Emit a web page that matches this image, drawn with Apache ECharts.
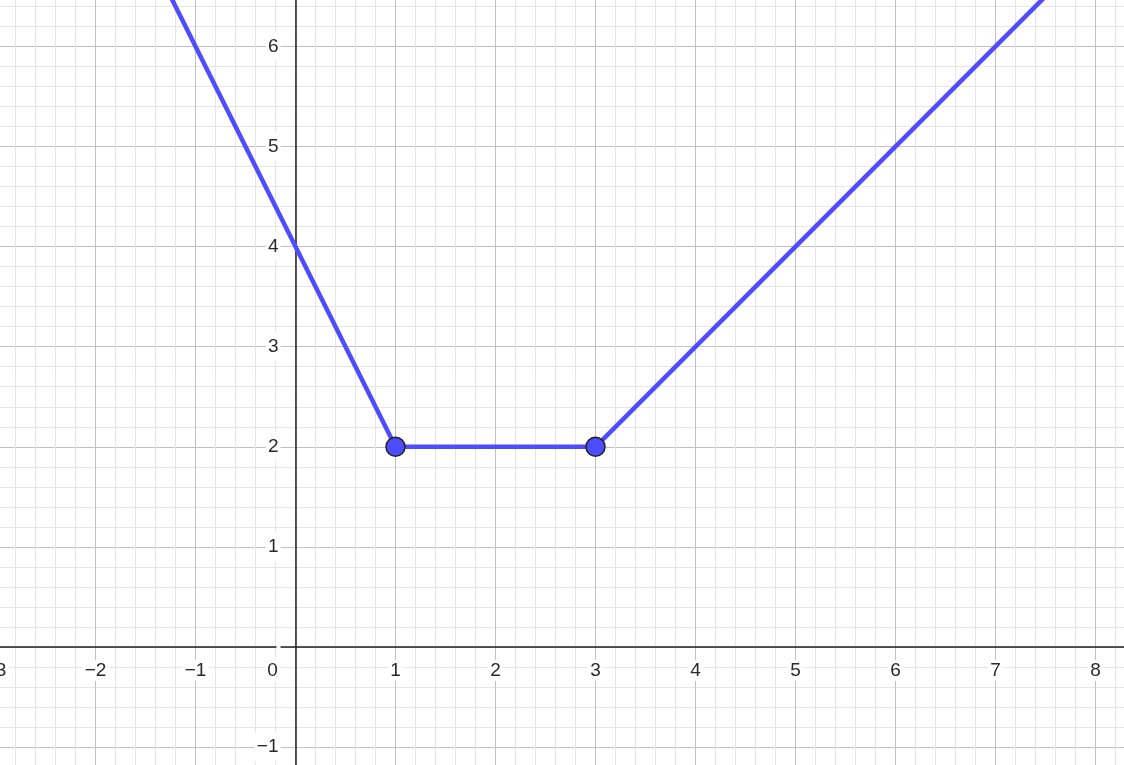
<!DOCTYPE html>
<html>
<head>
<meta charset="utf-8">
<script src="https://cdn.jsdelivr.net/npm/echarts@6/dist/echarts.min.js"></script>
<style>
  html,body{margin:0;padding:0;background:#fff;}
  #main{width:1124px;height:765px;}
</style>
</head>
<body>
<div id="main"></div>
<script>
  // piecewise graph: points
  const lineX = [-1.5, 1, 3, 8];
  const lineY = [7, 2, 2, 7];
  // the two marked points
  const pointX = [1, 3];
  const pointY = [2, 2];

  const xRange = [-3, 9];
  const yRange = [-2, 7];

  const blue = '#4d4dff';
  const labelFont = {
    fontFamily: '"Liberation Sans", Arial, sans-serif',
    fontSize: 19,
    color: '#2a2a2a'
  };

  function minus(v){
    return v < 0 ? '\u2212' + Math.abs(v) : String(v);
  }

  let chart = echarts.init(document.getElementById('main'));
  let option = {
    backgroundColor: '#fff',
    animation: false,
    grid: {
      left: -4.5,
      right: -71.5,
      top: -53.7,
      bottom: -82.2,
      containLabel: false,
      outerBoundsMode: 'none'
    },
    xAxis: {
      type: 'value',
      position: 'bottom',
      offset: -200.2,
      min: xRange[0],
      max: xRange[1],
      interval: 1,
      axisLine: {onZero: false, lineStyle: {color: '#222', width: 1.5}},
      axisTick: {show: false},
      minorTick: {show: false, splitNumber: 5},
      splitLine: {show: true, lineStyle: {color: '#c0c0c8', width: 1}},
      minorSplitLine: {show: true, lineStyle: {color: '#e6e6e6', width: 1}},
      axisLabel: Object.assign({
        margin: 13,
        showMinLabel: true,
        showMaxLabel: true,
        formatter: function(v){
          if (v === 0) return '{b|0}{g|}';
          return '{b|' + minus(v) + '}';
        },
        rich: {
          b: Object.assign({backgroundColor: '#fff', padding: [1, 2]}, labelFont),
          g: {width: 46}
        }
      }, labelFont)
    },
    yAxis: {
      type: 'value',
      position: 'left',
      offset: -300,
      min: yRange[0],
      max: yRange[1],
      interval: 1,
      axisLine: {onZero: false, lineStyle: {color: '#222', width: 1.5}},
      axisTick: {show: false},
      minorTick: {show: false, splitNumber: 5},
      splitLine: {show: true, lineStyle: {color: '#c0c0c8', width: 1}},
      minorSplitLine: {show: true, lineStyle: {color: '#e6e6e6', width: 1}},
      axisLabel: Object.assign({
        margin: 15,
        backgroundColor: '#fff',
        padding: [9, 2, 0, 2],
        formatter: function(v){
          if (v === 0) return '';
          return minus(v);
        }
      }, labelFont)
    },
    series: [
      {
        type: 'line',
        data: lineX.map((x, i) => [x, lineY[i]]),
        showSymbol: false,
        lineStyle: {color: blue, width: 4.5},
        z: 3
      },
      {
        type: 'scatter',
        data: pointX.map((x, i) => [x, pointY[i]]),
        symbolSize: 19,
        itemStyle: {color: blue, borderColor: '#222', borderWidth: 1.5, opacity: 1},
        z: 4
      }
    ]
  };
  chart.setOption(option);
</script>
</body>
</html>
